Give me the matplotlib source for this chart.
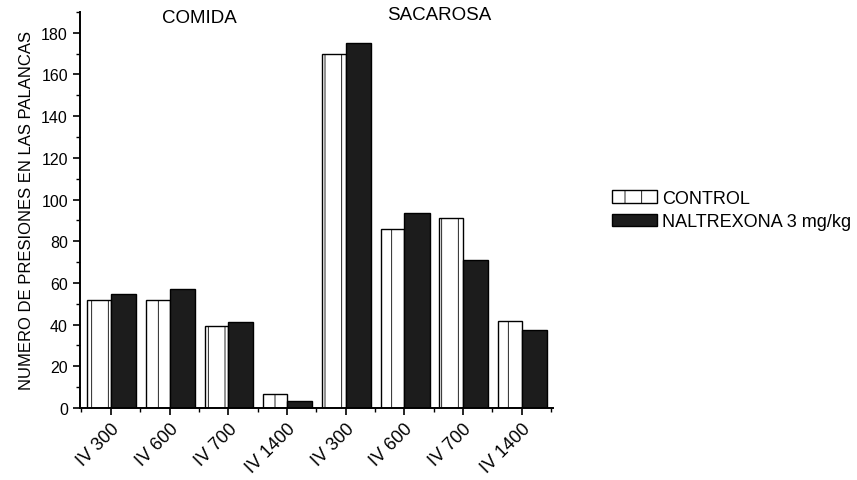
import matplotlib.pyplot as plt
import matplotlib.transforms as mtransforms
import numpy as np
from matplotlib.ticker import MultipleLocator

categories = ["IV 300", "IV 600", "IV 700", "IV 1400", "IV 300", "IV 600", "IV 700", "IV 1400"]
control = [52, 52, 39.5, 6.5, 170, 86, 91, 41.5]
naltrexona = [54.5, 57, 41, 3.5, 175, 93.5, 71, 37.5]
groups = ["COMIDA", "SACAROSA"]

plt.rcParams['font.family'] = ['Liberation Sans', 'DejaVu Sans']
plt.rcParams['hatch.linewidth'] = 0.6

fig = plt.figure(figsize=(8.57, 4.81), dpi=100)
ax = fig.add_axes([0.093, 0.150, 0.552, 0.823])

x = np.arange(len(categories))
w = 0.40
ax.bar(x, control, width=-w, align='edge', facecolor='white', edgecolor='black',
       linewidth=1.0, hatch='|', label='CONTROL')
ax.bar(x, naltrexona, width=w + 0.03, align='edge', facecolor='#1c1c1c', edgecolor='black',
       linewidth=1.0, label='NALTREXONA 3 mg/kg')

ax.set_xlim(-0.53, 7.53)
ax.set_ylim(0, 190)
ax.set_xticks(x)
ax.set_xticklabels(categories, rotation=45, ha='right', rotation_mode='anchor', fontsize=13)
shift = mtransforms.ScaledTranslation(9 / 72, -5 / 72, fig.dpi_scale_trans)
for lab in ax.get_xticklabels():
    lab.set_transform(lab.get_transform() + shift)
ax.xaxis.set_minor_locator(MultipleLocator(0.5))
ax.yaxis.set_major_locator(MultipleLocator(20))
ax.yaxis.set_minor_locator(MultipleLocator(10))
ax.tick_params(axis='both', which='major', direction='out', length=5, width=1.2)
ax.tick_params(axis='y', which='major', labelsize=11.5)
ax.tick_params(axis='both', which='minor', direction='out', length=3, width=1.0)

for side in ['top', 'right']:
    ax.spines[side].set_visible(False)
for side in ['left', 'bottom']:
    ax.spines[side].set_linewidth(1.4)

ax.set_ylabel("NUMERO DE PRESIONES EN LAS PALANCAS", fontsize=12, labelpad=5)

ax.text(1.51, 187.5, groups[0], ha='center', va='center', fontsize=13.5)
ax.text(5.6, 189, groups[1], ha='center', va='center', fontsize=13.5)

ax.legend(loc='center left', bbox_to_anchor=(0.7036, 0.5613), bbox_transform=fig.transFigure,
          frameon=False, fontsize=13, borderpad=0, handlelength=2.5, handleheight=0.7,
          handletextpad=0.27, labelspacing=0.35)

fig.savefig("out.png", dpi=100)
